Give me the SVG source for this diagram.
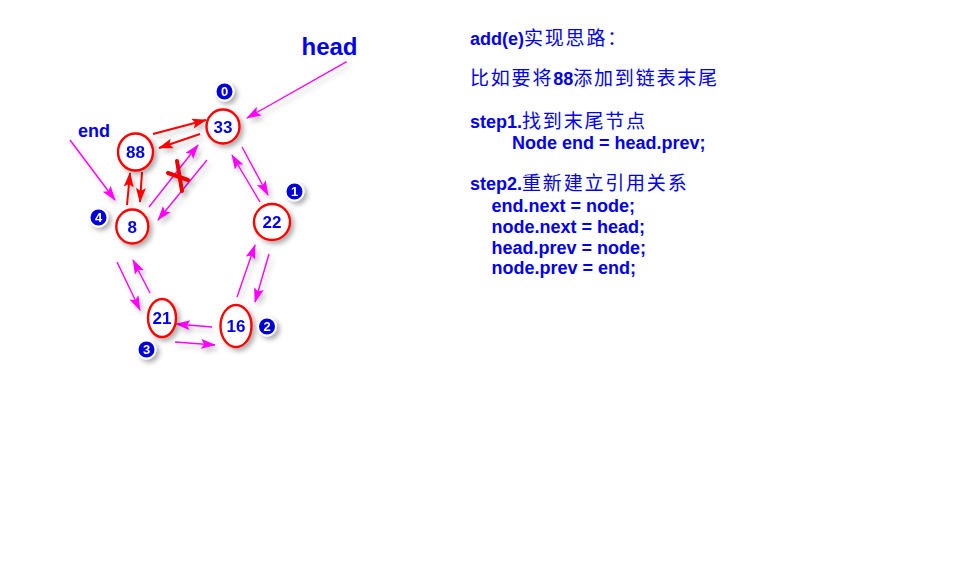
<svg xmlns="http://www.w3.org/2000/svg" width="959" height="562" viewBox="0 0 959 562">
<defs>
  <filter id="sh" x="-50%" y="-50%" width="200%" height="200%">
    <feDropShadow dx="3" dy="3" stdDeviation="2.5" flood-color="#000" flood-opacity="0.32"/>
  </filter>
  <filter id="lsh" x="-50%" y="-50%" width="200%" height="200%">
    <feDropShadow dx="3" dy="4" stdDeviation="2.5" flood-color="#000" flood-opacity="0.22"/>
  </filter>
  <marker id="am" markerUnits="userSpaceOnUse" markerWidth="18" markerHeight="12" refX="14" refY="5" orient="auto">
    <path d="M0,0 L15,5 L0,10 L3,5 z" fill="#ff00ff"/>
  </marker>
  <marker id="ar" markerUnits="userSpaceOnUse" markerWidth="18" markerHeight="12" refX="14" refY="5" orient="auto">
    <path d="M0,0 L15,5 L0,10 L3,5 z" fill="#ff0000"/>
  </marker>
</defs>
<style>
  .node ellipse { fill: #fff; stroke: #ff0000; stroke-width: 2.4; }
  .node text { font-family: "Liberation Sans", Arial, sans-serif; font-weight: bold; font-size: 17px; fill: #0000ee; text-anchor: middle; }
  .badge circle { fill: #0000dd; stroke: #fff; stroke-width: 2; }
  .badge text { font-family: "Liberation Sans", Arial, sans-serif; font-weight: bold; font-size: 13px; fill: #fff; text-anchor: middle; }
  .m { stroke: #ff00ff; stroke-width: 1.4; fill: none; marker-end: url(#am); }
  .r { stroke: #ff0000; stroke-width: 2; fill: none; marker-end: url(#ar); }
  .lbl { font-family: "Liberation Sans", Arial, sans-serif; font-weight: bold; fill: #0000ee; }
  .t { font-family: "Liberation Sans", Arial, "Noto Sans CJK SC", sans-serif; font-weight: bold; font-size: 18px; fill: #0000ee; }
  .cjk { font-family: "Noto Sans CJK SC", sans-serif; font-weight: normal; font-size: 19px; letter-spacing: 1.8px; }
</style>
<rect width="959" height="562" fill="#fff"/>

<g id="connectors" filter="url(#lsh)">
  <line class="m" x1="346.7" y1="61.7" x2="247" y2="118"/>
  <line class="m" x1="70" y1="140" x2="115" y2="200"/>
  <line class="m" x1="149" y1="207" x2="198" y2="145"/>
  <line class="m" x1="207" y1="160" x2="158" y2="220"/>
  <line class="m" x1="242" y1="147" x2="268" y2="195"/>
  <line class="m" x1="260" y1="202" x2="232" y2="155"/>
  <line class="m" x1="269" y1="254" x2="255" y2="302"/>
  <line class="m" x1="237" y1="297" x2="255" y2="245"/>
  <line class="m" x1="212" y1="327" x2="176" y2="324"/>
  <line class="m" x1="175" y1="342" x2="215" y2="345"/>
  <line class="m" x1="117" y1="262" x2="140" y2="310"/>
  <line class="m" x1="150" y1="293" x2="133" y2="260"/>
  <line class="r" x1="153" y1="134" x2="206" y2="120"/>
  <line class="r" x1="200" y1="134" x2="159" y2="148"/>
  <line class="r" x1="127" y1="205" x2="130" y2="173"/>
  <line class="r" x1="142" y1="172" x2="140" y2="202"/>
</g>

<g id="cross" filter="url(#sh)" stroke="#ee0000" stroke-width="4" stroke-linecap="round">
  <line x1="177" y1="161" x2="182" y2="191"/>
  <line x1="168" y1="173" x2="188" y2="180"/>
</g>

<g id="node-33" class="node" filter="url(#sh)"><ellipse cx="223" cy="126.5" rx="16.5" ry="17"/><text x="223" y="132.5">33</text></g>
<g id="node-88" class="node" filter="url(#sh)"><ellipse cx="135.5" cy="152" rx="17.5" ry="18.5"/><text x="135.5" y="158">88</text></g>
<g id="node-8" class="node" filter="url(#sh)"><ellipse cx="132.3" cy="226.5" rx="16" ry="17"/><text x="132.3" y="232.5">8</text></g>
<g id="node-22" class="node" filter="url(#sh)"><ellipse cx="272" cy="222" rx="18" ry="18"/><text x="272" y="228">22</text></g>
<g id="node-16" class="node" filter="url(#sh)"><ellipse cx="236" cy="326" rx="15.5" ry="21"/><text x="236" y="332">16</text></g>
<g id="node-21" class="node" filter="url(#sh)"><ellipse cx="162" cy="318" rx="14" ry="19"/><text x="162" y="324">21</text></g>

<g id="badge-0" class="badge" filter="url(#sh)"><circle cx="224.5" cy="91.5" r="9"/><text x="224.5" y="96">0</text></g>
<g id="badge-1" class="badge" filter="url(#sh)"><circle cx="294.5" cy="191.5" r="9"/><text x="294.5" y="196">1</text></g>
<g id="badge-2" class="badge" filter="url(#sh)"><circle cx="267" cy="326.5" r="9"/><text x="267" y="331">2</text></g>
<g id="badge-3" class="badge" filter="url(#sh)"><circle cx="146.5" cy="349.5" r="9"/><text x="146.5" y="354">3</text></g>
<g id="badge-4" class="badge" filter="url(#sh)"><circle cx="98.5" cy="217.5" r="9"/><text x="98.5" y="222">4</text></g>

<g id="labels">
  <text class="lbl" x="301.5" y="55" font-size="24">head</text>
  <text class="lbl" x="78" y="137" font-size="18">end</text>
</g>

<g id="description">
  <text class="t" x="470" y="45">add(e)<tspan class="cjk">实现思路：</tspan></text>
  <text class="t" x="470" y="85"><tspan class="cjk">比如要将</tspan>88<tspan class="cjk">添加到链表末尾</tspan></text>
  <text class="t" x="470" y="128">step1.<tspan class="cjk">找到末尾节点</tspan></text>
  <text class="t" x="512" y="148.5">Node end = head.prev;</text>
  <text class="t" x="470" y="190">step2.<tspan class="cjk">重新建立引用关系</tspan></text>
  <text class="t" x="491.5" y="212">end.next = node;</text>
  <text class="t" x="491.5" y="232.5">node.next = head;</text>
  <text class="t" x="491.5" y="253.5">head.prev = node;</text>
  <text class="t" x="491.5" y="274">node.prev = end;</text>
</g>
</svg>
